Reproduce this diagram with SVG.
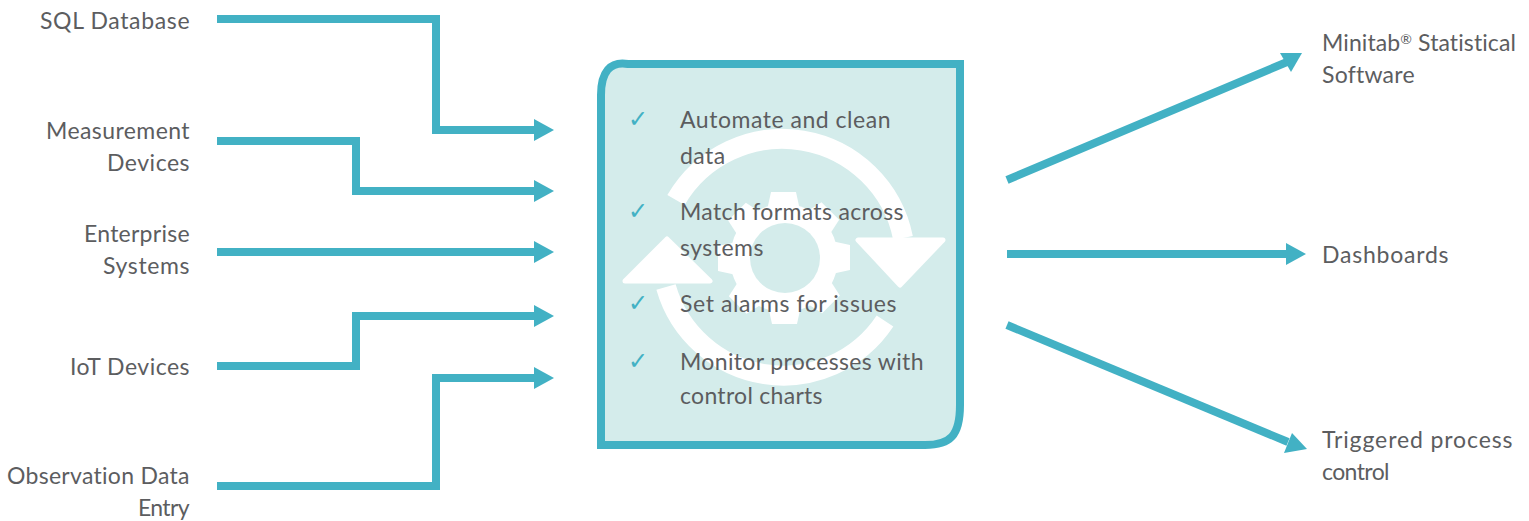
<svg xmlns="http://www.w3.org/2000/svg" width="1529" height="521" viewBox="0 0 1529 521">
<style>
text{font-family:"Lato","Open Sans",sans-serif;font-size:23px;letter-spacing:.47px;fill:#5c5d5f}
.r{text-anchor:end}
.c{fill:none;stroke:#42b1c4;stroke-width:8}
.m{marker-end:url(#a)}
.h{fill:#42b1c4}
.k{font-family:"DejaVu Sans",sans-serif;font-size:24px;letter-spacing:0;fill:#42b1c4}
.w{fill:#fff;stroke:#fff;stroke-width:5;stroke-linejoin:round}
.arc{fill:none;stroke:#fff;stroke-width:20}
</style>
<defs>
<marker id="a" markerUnits="userSpaceOnUse" markerWidth="22" markerHeight="24" viewBox="0 -12 22 24" refX="1" refY="0" orient="auto"><path d="M0,-11L20,0L0,11Z" fill="#42b1c4"/></marker>
<polygon id="t" points="772,192 797,192 802,215 767,215" fill="#fff"/>
</defs>
<g id="process">
<path d="M601,445V95C601,72 610,61 628,64H960V405C960,436 950,445 925,445Z" fill="#d4eceb" stroke="#42b1c4" stroke-width="8"/>
<g id="icon">
<path class="arc" d="M676,200A123,123 0 0 1 903,238"/>
<path class="arc" d="M666,287A122,122 0 0 0 885,321"/>
<path class="w" d="M858,240H943L900,285Z"/>
<path class="w" d="M667,239L710,281H625Z"/>
<circle cx="784" cy="258" r="54" fill="#fff"/>
<g transform="translate(-1 0)"><use href="#t"/><use href="#t" transform="rotate(45 785 258)"/><use href="#t" transform="rotate(90 785 258)"/><use href="#t" transform="rotate(135 785 258)"/><use href="#t" transform="rotate(180 785 258)"/><use href="#t" transform="rotate(225 785 258)"/><use href="#t" transform="rotate(270 785 258)"/><use href="#t" transform="rotate(315 785 258)"/></g>
<circle cx="785" cy="258" r="35" fill="#d4eceb"/>
</g>
<text class="k" x="628" y="127">✓</text>
<text x="680" y="128.4" textLength="211">Automate and clean</text><text x="680" y="164.4">data</text>
<text class="k" x="628" y="219">✓</text>
<text x="680" y="220.4" textLength="224">Match formats across</text><text x="680" y="256.4">systems</text>
<text class="k" x="628" y="311">✓</text>
<text x="680" y="312.4" textLength="217">Set alarms for issues</text>
<text class="k" x="628" y="369">✓</text>
<text x="680" y="370.4" textLength="244">Monitor processes with</text><text x="680" y="404.4" textLength="143">control charts</text>
</g>
<g id="connectors">
<path class="c m" d="M217,19H436V130H535"/>
<path class="c m" d="M217,141H356V191H535"/>
<path class="c m" d="M217,252H535"/>
<path class="c m" d="M217,366H356V316H535"/>
<path class="c m" d="M217,486H436V378H535"/>
<path class="c" d="M1007,180L1287,62"/>
<polygon class="h" points="1302,53 1280,53 1291,72"/>
<path class="c m" d="M1007,254H1287"/>
<path class="c" d="M1007,325L1288,442"/>
<polygon class="h" points="1307,449 1292,433 1284,453"/>
</g>
<g id="sql"><text class="r" x="190" y="29" textLength="150">SQL Database</text></g>
<g id="measurement"><text class="r" x="190" y="139" textLength="144">Measurement</text><text class="r" x="190" y="171" textLength="83">Devices</text></g>
<g id="enterprise"><text class="r" x="190" y="241.5" textLength="106">Enterprise</text><text class="r" x="190" y="273.5" textLength="87">Systems</text></g>
<g id="iot"><text class="r" x="190" y="374.5" textLength="120">IoT Devices</text></g>
<g id="observation"><text class="r" x="190" y="483.5" textLength="183">Observation Data</text><text class="r" x="190" y="515.5" textLength="52">Entry</text></g>
<g id="minitab"><text x="1322" y="51.4" style="letter-spacing:.1px">Minitab<tspan font-size="14" dy="-7">®</tspan><tspan dy="7"> Statistical</tspan></text><text x="1322" y="83.4" textLength="93">Software</text></g>
<g id="dashboards"><text x="1322" y="263.4" textLength="127">Dashboards</text></g>
<g id="triggered"><text x="1322" y="448.4" textLength="191">Triggered process</text><text x="1322" y="480.4" textLength="68">control</text></g>
</svg>
